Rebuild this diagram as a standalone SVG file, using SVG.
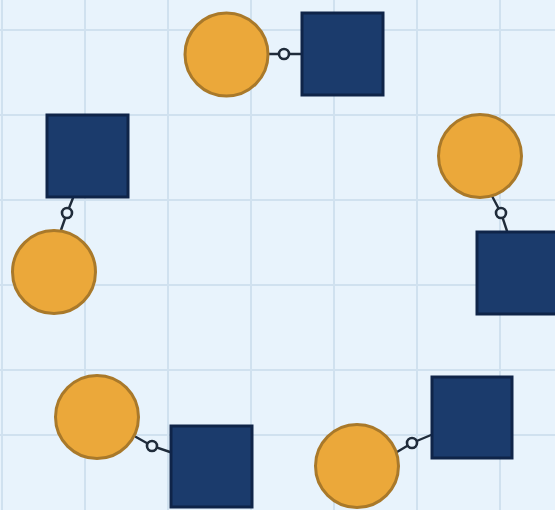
<svg xmlns="http://www.w3.org/2000/svg" width="555" height="510" viewBox="0 0 555 510">
  <style>
    .grid { stroke: #d0e1ef; stroke-width: 2; }
    .circle { fill: #eba83a; stroke: #a9792a; stroke-width: 3; }
    .square { fill: #1b3b6c; stroke: #0f2448; stroke-width: 3; }
    .link { fill: none; stroke: #1f2b3a; stroke-width: 2.4; stroke-linecap: round; }
    .ring { fill: #e8f3fc; stroke: #1f2b3a; stroke-width: 2.6; }
  </style>

  <!-- background and grid -->
  <rect x="0" y="0" width="555" height="510" fill="#e8f3fc"/>
  <g id="grid">
    <line class="grid" x1="2" y1="0" x2="2" y2="510"/>
    <line class="grid" x1="85" y1="0" x2="85" y2="510"/>
    <line class="grid" x1="168" y1="0" x2="168" y2="510"/>
    <line class="grid" x1="251" y1="0" x2="251" y2="510"/>
    <line class="grid" x1="334" y1="0" x2="334" y2="510"/>
    <line class="grid" x1="417" y1="0" x2="417" y2="510"/>
    <line class="grid" x1="500" y1="0" x2="500" y2="510"/>
    <line class="grid" x1="0" y1="30" x2="555" y2="30"/>
    <line class="grid" x1="0" y1="115" x2="555" y2="115"/>
    <line class="grid" x1="0" y1="200" x2="555" y2="200"/>
    <line class="grid" x1="0" y1="285" x2="555" y2="285"/>
    <line class="grid" x1="0" y1="370" x2="555" y2="370"/>
    <line class="grid" x1="0" y1="435" x2="555" y2="435"/>
  </g>

  <!-- connectors: short link with a ring joint -->
  <g id="connectors">
    <path class="link" d="M268,54 L301,54"/>
    <circle class="ring" cx="284" cy="54" r="5"/>

    <path class="link" d="M73,198 L67,213 L61,230"/>
    <circle class="ring" cx="67" cy="213" r="5"/>

    <path class="link" d="M492,196 L501,213 L507,231"/>
    <circle class="ring" cx="501" cy="213" r="5"/>

    <path class="link" d="M136,437 L152,446 L170,452"/>
    <circle class="ring" cx="152" cy="446" r="5"/>

    <path class="link" d="M397,452 L412,443 L431,435"/>
    <circle class="ring" cx="412" cy="443" r="5"/>
  </g>

  <!-- nodes -->
  <g id="circle-top"><circle class="circle" cx="226.5" cy="54.5" r="41.5"/></g>
  <g id="square-top"><rect class="square" x="302" y="13" width="81" height="82"/></g>

  <g id="square-left"><rect class="square" x="47" y="115" width="81" height="82"/></g>
  <g id="circle-left"><circle class="circle" cx="54" cy="272" r="41.5"/></g>

  <g id="circle-right"><circle class="circle" cx="480" cy="156" r="41.5"/></g>
  <g id="square-right"><rect class="square" x="477" y="232" width="81" height="82"/></g>

  <g id="circle-bottom-left"><circle class="circle" cx="97" cy="417" r="41.5"/></g>
  <g id="square-bottom-left"><rect class="square" x="171" y="426" width="81" height="81"/></g>

  <g id="square-bottom-right"><rect class="square" x="432" y="377" width="80" height="81"/></g>
  <g id="circle-bottom-right"><circle class="circle" cx="357" cy="466" r="41.5"/></g>
</svg>
